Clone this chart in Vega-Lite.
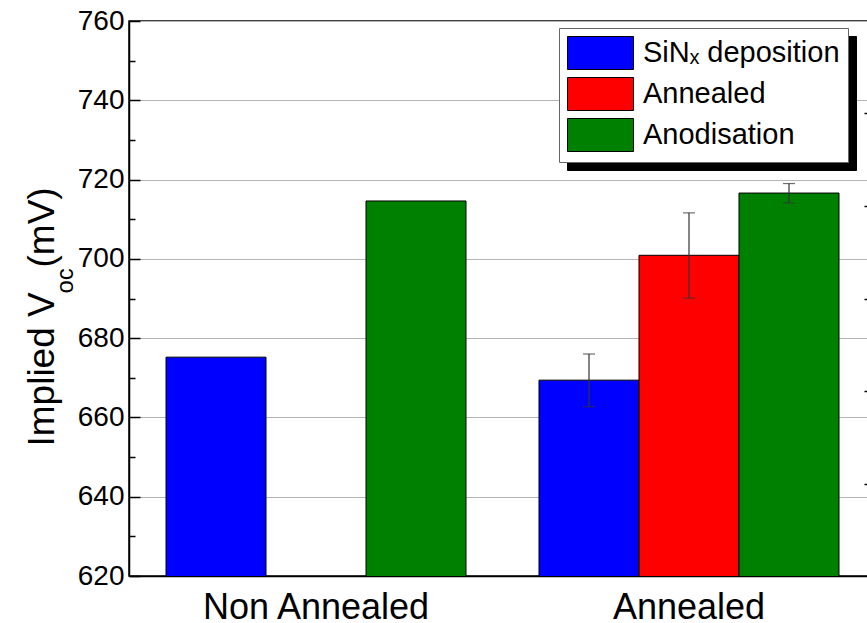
{
  "$schema": "https://vega.github.io/schema/vega-lite/v6.json",
  "width": 747,
  "height": 555,
  "autosize": {"type": "none"},
  "padding": {"left": 129, "top": 21, "right": 0, "bottom": 47},
  "background": "white",
  "config": {
    "font": "Liberation Sans",
    "view": {"stroke": "black", "strokeWidth": 1.5},
    "axis": {"labelColor": "black", "titleColor": "black", "titleFontWeight": "normal", "tickColor": "black", "domainColor": "black", "domainWidth": 1.5, "tickWidth": 1.5}
  },
  "data": {
    "values": [
      {"group": "Non Annealed", "series": "SiNₓ deposition", "v": 675.2},
      {"group": "Non Annealed", "series": "Anodisation", "v": 714.6},
      {"group": "Annealed", "series": "SiNₓ deposition", "v": 669.4, "lo": 662.7, "hi": 676.0},
      {"group": "Annealed", "series": "Annealed", "v": 700.9, "lo": 690.1, "hi": 711.6},
      {"group": "Annealed", "series": "Anodisation", "v": 716.6, "lo": 714.1, "hi": 719.0}
    ]
  },
  "encoding": {
    "x": {
      "field": "group",
      "type": "nominal",
      "scale": {"domain": ["Non Annealed", "Annealed"], "paddingInner": 0.1957, "paddingOuter": 0.0992},
      "axis": {"title": null, "labelFontSize": 36, "labelPadding": 14, "labelLimit": 0, "ticks": false, "labelAngle": 0, "grid": false}
    },
    "xOffset": {
      "field": "series",
      "type": "nominal",
      "scale": {"domain": ["SiNₓ deposition", "Annealed", "Anodisation"], "paddingInner": 0, "paddingOuter": 0}
    }
  },
  "layer": [
    {
      "mark": {"type": "bar", "stroke": "black", "strokeWidth": 1, "clip": true},
      "encoding": {
        "y": {
          "field": "v",
          "type": "quantitative",
          "scale": {"domain": [620, 760], "nice": false, "zero": false},
          "axis": {
            "orient": "left",
            "values": [620, 640, 660, 680, 700, 720, 740, 760],
            "labelFontSize": 28,
            "labelPadding": 16,
            "tickSize": -11,
            "grid": true,
            "gridColor": "#b5b5b5",
            "gridWidth": 1,
            "title": "Implied V",
            "titleFontSize": 37,
            "titleAngle": 270,
            "titleAlign": "left",
            "titleBaseline": "alphabetic",
            "titleX": -76,
            "titleY": 425
          }
        },
        "color": {
          "field": "series",
          "type": "nominal",
          "scale": {"domain": ["SiNₓ deposition", "Annealed", "Anodisation"], "range": ["#0000ff", "#ff0000", "#008000"]},
          "legend": {
            "orient": "none", "legendX": 430, "legendY": 7, "title": null,
            "symbolType": "M-1,-1H3V1H-1Z", "symbolSize": 1089,
            "symbolStrokeColor": "black", "symbolStrokeWidth": 1,
            "labelFontSize": 29, "labelColor": "black", "labelOffset": 42, "labelLimit": 0,
            "padding": 8, "rowPadding": 3,
            "strokeColor": "#666666", "fillColor": "white", "zindex": 2
          }
        },
        "opacity": {
          "field": "series",
          "type": "ordinal",
          "scale": {"range": [1, 1]},
          "legend": {
            "orient": "none", "legendX": 438, "legendY": 15, "title": null,
            "symbolType": "M-1,-1H3V1H-1Z", "symbolSize": 1089,
            "symbolFillColor": "black", "symbolStrokeColor": "black", "symbolStrokeWidth": 1,
            "labelFontSize": 29, "labelColor": "black", "labelOffset": 42, "labelLimit": 0,
            "padding": 8, "rowPadding": 3,
            "strokeColor": "black", "fillColor": "black", "zindex": 1
          }
        }
      }
    },
    {
      "mark": {"type": "rule", "color": "#333333", "strokeWidth": 1.2},
      "encoding": {
        "y": {
          "field": "lo",
          "type": "quantitative",
          "scale": {"domain": [620, 760], "nice": false, "zero": false},
          "axis": {
            "orient": "left",
            "values": [630, 650, 670, 690, 710, 730, 750],
            "labels": false, "domain": false, "grid": false,
            "tickSize": -6,
            "title": "oc",
            "titleFontSize": 24,
            "titleAngle": 270,
            "titleAlign": "left",
            "titleBaseline": "alphabetic",
            "titleX": -57,
            "titleY": 272
          }
        },
        "y2": {"field": "hi"}
      }
    },
    {
      "mark": {"type": "tick", "color": "#333333", "thickness": 1.2, "size": 12},
      "encoding": {
        "y": {
          "field": "lo",
          "type": "quantitative",
          "scale": {"domain": [620, 760], "nice": false, "zero": false},
          "axis": {
            "orient": "right",
            "values": [643.33, 666.67, 690, 713.33, 736.67],
            "labels": false, "grid": false,
            "tickSize": -12,
            "title": "(mV)",
            "titleFontSize": 37,
            "titleAngle": 270,
            "titleAlign": "left",
            "titleBaseline": "alphabetic",
            "titleX": -823,
            "titleY": 246
          }
        }
      }
    },
    {
      "mark": {"type": "tick", "color": "#333333", "thickness": 1.2, "size": 12},
      "encoding": {
        "y": {
          "field": "hi",
          "type": "quantitative",
          "scale": {"domain": [620, 760], "nice": false, "zero": false},
          "axis": null
        }
      }
    }
  ],
  "resolve": {"axis": {"y": "independent"}}
}
